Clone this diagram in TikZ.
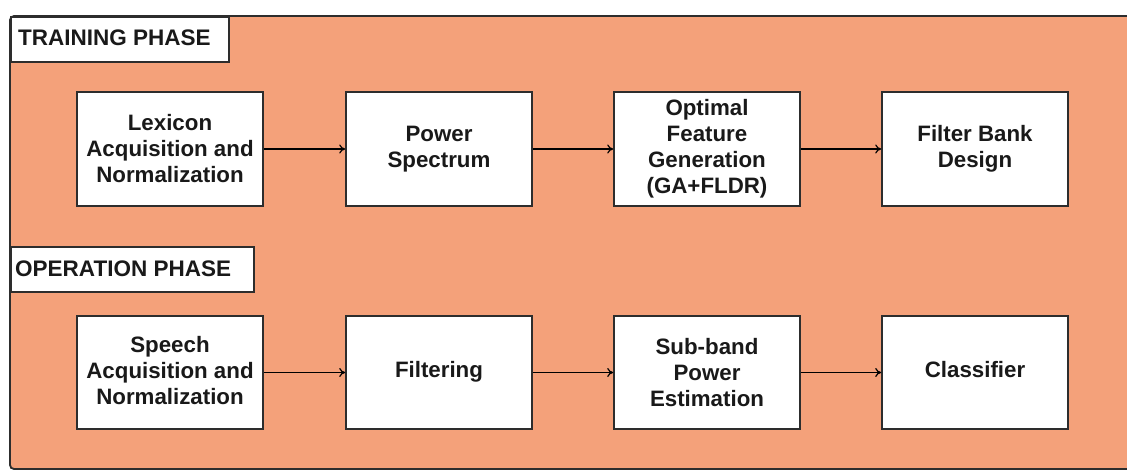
\documentclass[tikz,border=0pt]{standalone}
\usepackage{fontspec}
\setmainfont{Liberation Sans}
\usetikzlibrary{arrows.meta}
\definecolor{panel}{RGB}{244,161,122}
\definecolor{edge}{RGB}{45,45,45}
\tikzset{
  stage/.style={draw=edge, line width=1.6pt, fill=white, align=center,
    minimum width=186pt, minimum height=114pt, inner sep=0pt,
    font=\fontsize{22.3}{26}\selectfont\bfseries, text=black!90},
  phase/.style={draw=edge, line width=1.6pt, fill=white, anchor=north west,
    inner sep=0pt},
  phasetext/.style={anchor=west, inner sep=0pt,
    font=\fontsize{22.5}{26}\selectfont\bfseries, text=black!90},
  flow/.style={draw=black, line width=1.2pt, -{To[length=6pt,width=9pt]}}
}
\begin{document}
\begin{tikzpicture}[x=1pt, y=-1pt]
\useasboundingbox (0,0) rectangle (1127,471);
% background panel
\fill[panel] (10,16) rectangle (1127,469);
\draw[edge, line width=1.8pt, rounded corners=4pt] (1127,16) -- (10,16) -- (10,469) -- (1127,469);

% phase labels
\node[phase, minimum width=218pt, minimum height=45pt] (train) at (10,16) {};
\node[phasetext] (traintext) at (18,38) {TRAINING PHASE};
\node[phase, minimum width=243pt, minimum height=45pt] (oper) at (10,246) {};
\node[phasetext] (opertext) at (15,268.5) {OPERATION PHASE};

% training stages
\node[stage] (lex) at (170,149) {Lexicon\\Acquisition and\\Normalization};
\node[stage] (pow) at (439,149) {\raisebox{4pt}{Power}\\\raisebox{4pt}{Spectrum}};
\node[stage] (opt) at (707,149) {Optimal\\Feature\\Generation\\(GA+FLDR)};
\node[stage] (fbd) at (975,149) {Filter Bank\\Design};

% operation stages
\node[stage, minimum height=113pt] (spe) at (170,372.5) {\raisebox{5pt}{Speech}\\\raisebox{5pt}{Acquisition and}\\\raisebox{5pt}{Normalization}};
\node[stage, minimum height=113pt] (fil) at (439,372.5) {\raisebox{7pt}{Filtering}};
\node[stage, minimum height=113pt] (sub) at (707,372.5) {Sub-band\\Power\\Estimation};
\node[stage, minimum height=113pt] (cls) at (975,372.5) {\raisebox{6pt}{Classifier}};

% connectors
\draw[flow] (lex) -- (pow);
\draw[flow] (pow) -- (opt);
\draw[flow] (opt) -- (fbd);
\draw[flow] (spe) -- (fil);
\draw[flow] (fil) -- (sub);
\draw[flow] (sub) -- (cls);
\end{tikzpicture}
\end{document}
